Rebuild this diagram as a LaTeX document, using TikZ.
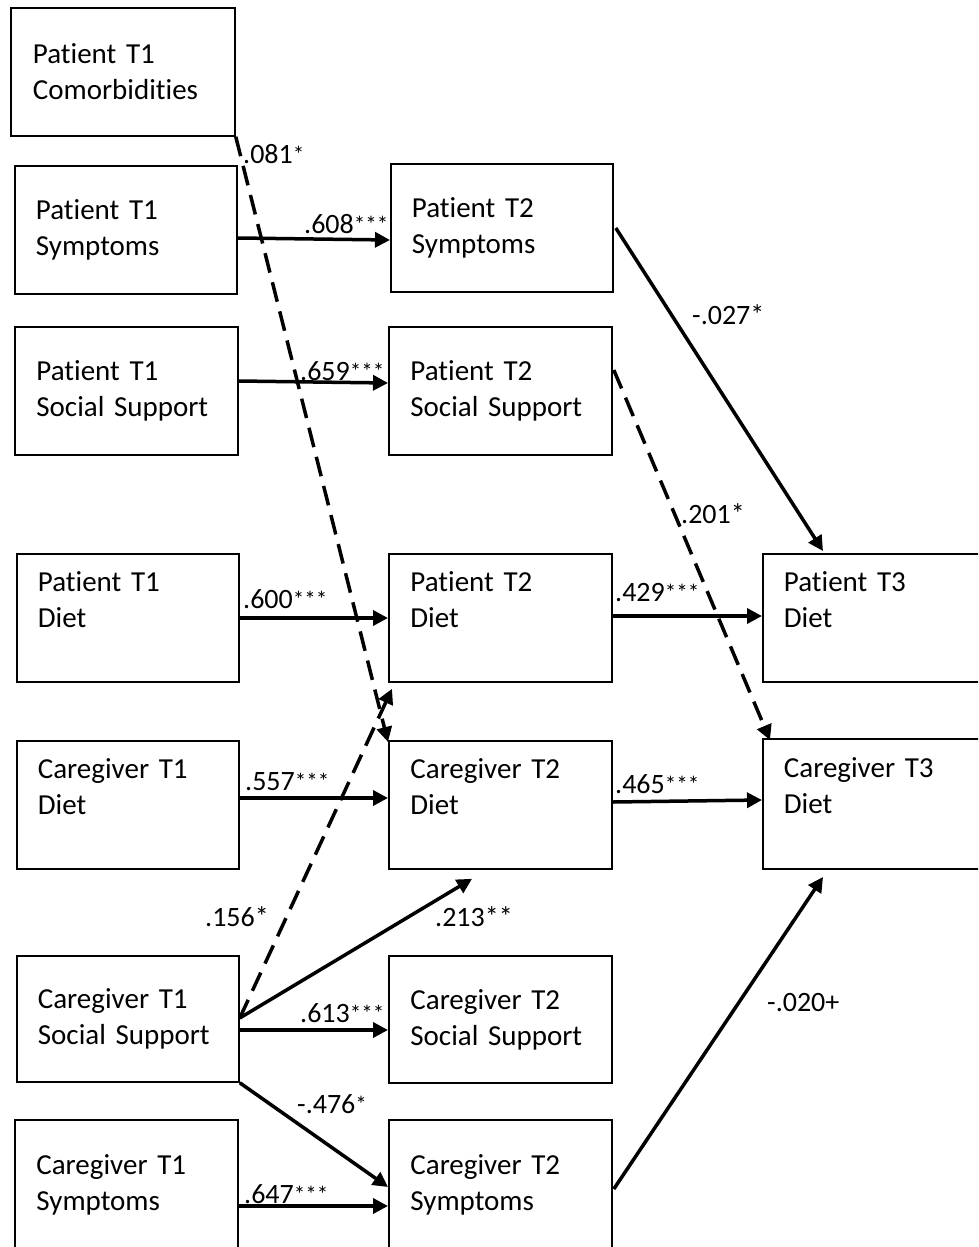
\documentclass[tikz,border=0pt]{standalone}
\usepackage{fontspec}
\setmainfont{Carlito}[Ligatures=NoCommon]
\usetikzlibrary{arrows.meta,calc}
\newcommand\smallast[1]{\raisebox{1pt}{\fontsize{23}{23}\selectfont #1}}
\begin{document}
\begin{tikzpicture}[x=1pt,y=-1pt,
  box/.style={draw=black,line width=1.8pt,rectangle,anchor=north west,
    inner xsep=0pt,inner ysep=0pt,align=left,text width=180pt,
    minimum width=222pt,minimum height=128pt,
    font=\fontsize{29}{36}\selectfont},
  arr/.style={line width=3.5pt,-{Triangle[length=15pt,width=15pt]}},
  darr/.style={arr,dash pattern=on 20pt off 10pt},
  lab/.style={anchor=base west,inner sep=0pt,font=\fontsize{28}{28}\selectfont}]
\useasboundingbox (0,0) rectangle (978,1247);
\clip (0,0) rectangle (978,1247);
\fill[white] (0,0) rectangle (978,1247);
% column 1
\node[box,minimum width=224pt] (ct1) at (10,7) {Patient T1\\Comorbidities};
\node[box] (st1) at (14,165) {Patient T1\\Symptoms};
\node[box,minimum width=223pt] (sst1) at (14,326) {Patient T1\\Social Support};
\node[box] (dt1) at (16,553) {Patient T1\\Diet\\\mbox{}};
\node[box] (cdt1) at (16,740) {Caregiver T1\\Diet\\\mbox{}};
\node[box,minimum height=126pt] (csst1) at (16,955) {Caregiver T1\\Social Support};
\node[box,minimum width=223pt,minimum height=130pt] (cst1) at (14,1119) {Caregiver T1\\Symptoms};
% column 2
\node[box] (st2) at (390,163) {Patient T2\\Symptoms};
\node[box,minimum width=223pt] (sst2) at (388,326) {Patient T2\\Social Support};
\node[box,minimum width=223pt] (dt2) at (388,553) {Patient T2\\Diet\\\mbox{}};
\node[box,minimum width=223pt] (cdt2) at (388,740) {Caregiver T2\\Diet\\\mbox{}};
\node[box,minimum width=223pt,minimum height=127pt] (csst2) at (388,955) {Caregiver T2\\Social Support};
\node[box,minimum width=223pt,minimum height=130pt] (cst2) at (388,1119) {Caregiver T2\\Symptoms};
% column 3
\node[box] (dt3) at (762,553) {Patient T3\\Diet\\\mbox{}};
\node[box,minimum height=130pt] (cdt3) at (762,738) {Caregiver T3\\Diet\\\mbox{}};
% connectors
\draw[darr] (ct1.south east) -- ($(cdt2.north west)+(0,2)$);
\draw[arr] ($(st1.north east)+(0,73)$) -- ($(st2.north west)+(0,77)$);
\draw[arr] ($(sst1.north east)+(0,55)$) -- ($(sst2.north west)+(0,57)$);
\draw[arr] ($(dt1.north east)+(0,65)$) -- ($(dt2.north west)+(0,65)$);
\draw[arr] ($(cdt1.north east)+(0,58)$) -- ($(cdt2.north west)+(0,58)$);
\draw[darr] ($(csst1.north east)+(0,63)$) -- ($(dt2.south west)+(4,6)$);
\draw[arr] ($(csst1.north east)+(0,63)$) -- ($(cdt2.south west)+(84,9)$);
\draw[arr] ($(csst1.north east)+(0,75)$) -- ($(csst2.north west)+(0,75)$);
\draw[arr] (csst1.south east) -- ($(cst2.north west)+(0,68)$);
\draw[arr] ($(cst1.north east)+(0,87)$) -- ($(cst2.north west)+(0,87)$);
\draw[arr] ($(st2.north east)+(2,65)$) -- ($(dt3.north west)+(61,-2)$);
\draw[darr] ($(sst2.north east)+(1,44)$) -- ($(cdt3.north west)+(8,2)$);
\draw[arr] ($(dt2.north east)+(0,63)$) -- ($(dt3.north west)+(0,63)$);
\draw[arr] ($(cdt2.north east)+(0,62)$) -- ($(cdt3.north west)+(0,62)$);
\draw[arr] ($(cst2.north east)+(1,70)$) -- ($(cdt3.north west)+(61,139)$);
% labels
\node[lab] (l1) at (243,163) {.081\smallast{*}};
\node[lab] (l2) at (304,233) {.608\smallast{***}};
\node[lab] (l3) at (300,380) {.659\smallast{***}};
\node[lab] (l4) at (243,608) {.600\smallast{***}};
\node[lab] (l5) at (245,790) {.557\smallast{***}};
\node[lab] (l6) at (205,926) {.156*};
\node[lab] (l7) at (435,926) {.213**};
\node[lab] (l8) at (300,1022) {.613\smallast{***}};
\node[lab] (l9) at (297,1113) {-.476\smallast{*}};
\node[lab] (l10) at (244,1203) {.647\smallast{***}};
\node[lab] (l11) at (692,324) {-.027*};
\node[lab] (l12) at (681,523) {.201*};
\node[lab] (l13) at (615,601) {.429\smallast{***}};
\node[lab] (l14) at (615,793) {.465\smallast{***}};
\node[lab] (l15) at (767,1011) {-.020+};
\end{tikzpicture}
\end{document}
